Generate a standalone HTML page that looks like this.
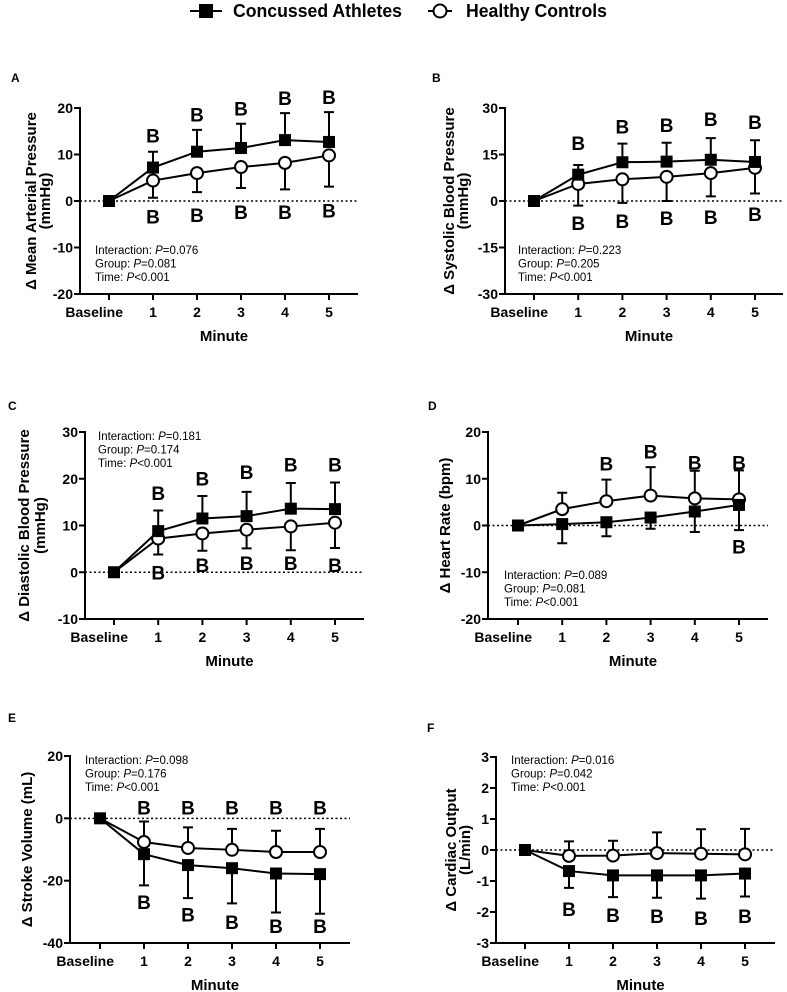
<!DOCTYPE html>
<html><head><meta charset="utf-8"><style>
body{margin:0;background:#fff;}
svg{display:block;font-family:"Liberation Sans",Arial,sans-serif;}
</style></head><body>
<svg id="fig" width="787" height="992" viewBox="0 0 787 992">
<g>
 <line x1="190" y1="11" x2="222" y2="11" stroke="#000" stroke-width="2"/>
 <rect x="199" y="4" width="14" height="14" fill="#000"/>
 <text x="233" y="17" font-size="18" font-weight="bold" textLength="169" lengthAdjust="spacingAndGlyphs">Concussed Athletes</text>
 <line x1="428" y1="11" x2="452" y2="11" stroke="#000" stroke-width="2"/>
 <circle cx="440" cy="11" r="6.5" fill="#fff" stroke="#000" stroke-width="2"/>
 <text x="466" y="17" font-size="18" font-weight="bold" textLength="141" lengthAdjust="spacingAndGlyphs">Healthy Controls</text>
</g>
</svg>
<script>
const categories=["Baseline","1","2","3","4","5"];
// Panel A
const aConc=[0,7.2,10.6,11.4,13.1,12.7];
const aConcErr=[0,10.6,15.3,16.6,18.9,19.1];
const aCtrl=[0,4.4,6.0,7.3,8.2,9.8];
const aCtrlErr=[0,0.7,1.9,2.8,2.5,3.1];
const aTicks=[20,10,0,-10,-20];
const aLetTop=[null,14.1,18.6,19.9,22.2,22.4];
const aLetBot=[null,-3.3,-3.0,-2.4,-2.4,-2.0];
// Panel B
const bConc=[0,8.5,12.5,12.7,13.3,12.6];
const bConcErr=[0,11.6,18.5,18.8,20.3,19.6];
const bCtrl=[0,5.5,7.0,7.8,9.0,10.7];
const bCtrlErr=[0,-1.5,-0.6,0,1.5,2.4];
const bTicks=[30,15,0,-15,-30];
const bLetTop=[null,18.7,24,24.5,26.5,25.5];
const bLetBot=[null,-7.1,-6.5,-5.5,-5.2,-4.2];
// Panel C
const cConc=[0,8.8,11.5,12.0,13.6,13.5];
const cConcErr=[0,13.2,16.3,17.2,19.1,19.2];
const cCtrl=[0,7.2,8.3,9.1,9.8,10.6];
const cCtrlErr=[0,3.8,4.6,5.1,4.7,5.2];
const cTicks=[30,20,10,0,-10];
const cLetTop=[null,16.9,20.1,21.4,23.1,23.1];
const cLetBot=[null,0,1.5,2,2,1.5];
// Panel D
const dConc=[0,0.3,0.7,1.7,3.0,4.4];
const dConcErr=[0,-3.8,-2.3,-0.7,-1.4,-1.0];
const dCtrl=[0,3.5,5.2,6.4,5.8,5.6];
const dCtrlErr=[0,7.0,9.8,12.5,11.7,11.8];
const dTicks=[20,10,0,-10,-20];
const dLetTop=[null,null,13.3,15.8,13.5,13.5];
const dLetBot=[null,null,null,null,null,-4.5];
// Panel E
const eConc=[0,-11.5,-15.0,-16.0,-17.7,-17.9];
const eConcErr=[0,-21.5,-25.6,-27.3,-30.2,-30.6];
const eCtrl=[0,-7.6,-9.5,-10.1,-10.8,-10.8];
const eCtrlErr=[0,-1.0,-2.9,-3.4,-4.0,-3.4];
const eTicks=[20,0,-20,-40];
const eLetTop=[null,3.5,3.5,3.5,3.5,3.5];
const eLetBot=[null,-26.9,-30.8,-33.3,-34.6,-34.6];
// Panel F
const fConc=[0,-0.68,-0.82,-0.82,-0.82,-0.76];
const fConcErr=[0,-1.22,-1.52,-1.54,-1.57,-1.50];
const fCtrl=[0,-0.19,-0.18,-0.10,-0.12,-0.14];
const fCtrlErr=[0,0.28,0.30,0.57,0.67,0.68];
const fTicks=[3,2,1,0,-1,-2,-3];
const fLetTop=[null,null,null,null,null,null];
const fLetBot=[null,-1.9,-2.1,-2.13,-2.2,-2.13];

const NS="http://www.w3.org/2000/svg";
const svg=document.getElementById('fig');
function mk(tag,attrs,parent,txt){const e=document.createElementNS(NS,tag);for(const k in attrs)e.setAttribute(k,attrs[k]);if(txt!==undefined)e.textContent=txt;parent.appendChild(e);return e;}

const panels=[
 {id:'a',label:'A',lx:11,ly:82,ax:80,top:108,bot:294,x0:109,x5:329,xe:358,conc:aConc,concErr:aConcErr,ctrl:aCtrl,ctrlErr:aCtrlErr,ticks:aTicks,lt:aLetTop,lb:aLetBot,
  title:['Δ Mean Arterial Pressure','(mmHg)'],tx:[31,45],sx:95,sy:254},
 {id:'b',label:'B',lx:432,ly:82,ax:505,top:108,bot:294,x0:534,x5:755,xe:783,conc:bConc,concErr:bConcErr,ctrl:bCtrl,ctrlErr:bCtrlErr,ticks:bTicks,lt:bLetTop,lb:bLetBot,
  title:['Δ  Systolic Blood Pressure','(mmHg)'],tx:[449,463],sx:518,sy:254},
 {id:'c',label:'C',lx:8,ly:410,ax:85,top:432,bot:619,x0:114,x5:335,xe:364,conc:cConc,concErr:cConcErr,ctrl:cCtrl,ctrlErr:cCtrlErr,ticks:cTicks,lt:cLetTop,lb:cLetBot,
  title:['Δ  Diastolic Blood Pressure','(mmHg)'],tx:[24,40],sx:98,sy:440},
 {id:'d',label:'D',lx:428,ly:410,ax:488,top:432,bot:619,x0:518,x5:739,xe:768,conc:dConc,concErr:dConcErr,ctrl:dCtrl,ctrlErr:dCtrlErr,ticks:dTicks,lt:dLetTop,lb:dLetBot,
  title:['Δ Heart Rate (bpm)'],tx:[445],sx:504,sy:579},
 {id:'e',label:'E',lx:8,ly:722,ax:70,top:756,bot:943,x0:100,x5:320,xe:350,conc:eConc,concErr:eConcErr,ctrl:eCtrl,ctrlErr:eCtrlErr,ticks:eTicks,lt:eLetTop,lb:eLetBot,
  title:['Δ Stroke Volume (mL)'],tx:[27],sx:85,sy:764},
 {id:'f',label:'F',lx:427,ly:732,ax:496,top:757,bot:943,x0:525,x5:745,xe:775,conc:fConc,concErr:fConcErr,ctrl:fCtrl,ctrlErr:fCtrlErr,ticks:fTicks,lt:fLetTop,lb:fLetBot,
  title:['Δ Cardiac Output','(L/min)'],tx:[451,465],sx:511,sy:764}
];
const stats={a:['0.076','0.081'],b:['0.223','0.205'],c:['0.181','0.174'],d:['0.089','0.081'],e:['0.098','0.176'],f:['0.016','0.042']};

panels.forEach(p=>{
 const g=mk('g',{},svg);
 
 
 const ymax=p.ticks[0],ymin=p.ticks[p.ticks.length-1];
 const Y=v=>p.top+(ymax-v)/(ymax-ymin)*(p.bot-p.top);
 const X=i=>p.x0+i*(p.x5-p.x0)/(categories.length-1);
 const pl=mk('text',{x:p.lx,y:p.ly,'font-size':12,'font-weight':'bold'},g,p.label);
 
 
 const z=mk('line',{x1:p.ax,x2:p.xe,y1:Y(0),y2:Y(0),stroke:'#000','stroke-width':1.5,'stroke-dasharray':'2,2.5'},g);
 
 
 const ya=mk('line',{x1:p.ax,x2:p.ax,y1:p.top-1,y2:p.bot+1,stroke:'#000','stroke-width':2},g);
 
 
 const xa=mk('line',{x1:p.ax-6,x2:p.xe,y1:p.bot,y2:p.bot,stroke:'#000','stroke-width':2},g);
 
 
 p.ticks.forEach(t=>{
  mk('line',{x1:p.ax-6,x2:p.ax,y1:Y(t),y2:Y(t),stroke:'#000','stroke-width':2},g);
  const tl=mk('text',{x:p.ax-7,y:Y(t)+5,'font-size':14,'font-weight':'bold','text-anchor':'end'},g,String(t));
  
  
 });
 categories.forEach((c,i)=>{
  mk('line',{x1:X(i),x2:X(i),y1:p.bot,y2:p.bot+6,stroke:'#000','stroke-width':2},g);
  const tl=mk('text',{x:i===0?X(0)+14:X(i),y:p.bot+23,'font-size':14,'font-weight':'bold','text-anchor':i===0?'end':'middle'},g,c);
  
  
 });
 const xt=mk('text',{x:(p.ax+p.xe)/2+5,y:p.bot+47,'font-size':15,'font-weight':'bold','text-anchor':'middle'},g,'Minute');
 
 
 const cy=(p.top+p.bot)/2;
 p.title.forEach((t,k)=>{
  const tt=mk('text',{x:p.tx[k],y:cy,'font-size':15,'font-weight':'bold','text-anchor':'middle',transform:`rotate(-90 ${p.tx[k]} ${cy})`,dy:5},g,t);
  
  
 });
 const st=stats[p.id];
 const lines=[['Interaction: ',st[0],'='],['Group: ',st[1],'='],['Time: ','0.001','<']];
 lines.forEach((l,k)=>{
  const t=mk('text',{x:p.sx,y:p.sy+k*13.5,'font-size':11.5},g);
  
  
  mk('tspan',{},t,l[0]);mk('tspan',{'font-style':'italic'},t,'P');mk('tspan',{},t,l[2]+l[1]);
 });
 const drawErr=(vals,err,name)=>{vals.forEach((v,i)=>{if(i===0)return;
  const e=mk('path',{d:`M${X(i)},${Y(v)}V${Y(err[i])}M${X(i)-5},${Y(err[i])}H${X(i)+5}`,stroke:'#000','stroke-width':2,fill:'none'},g);
  
  });};
 drawErr(p.conc,p.concErr,'concussed');
 drawErr(p.ctrl,p.ctrlErr,'control');
 const lineOf=(vals,name)=>{const l=mk('polyline',{points:vals.map((v,i)=>X(i)+','+Y(v)).join(' '),fill:'none',stroke:'#000','stroke-width':2},g);
  
  };
 lineOf(p.ctrl,'control');
 lineOf(p.conc,'concussed');
 p.ctrl.forEach((v,i)=>{if(i===0)return;
  const c=mk('circle',{cx:X(i),cy:Y(v),r:6,fill:'#fff',stroke:'#000','stroke-width':2},g);
  
  });
 p.conc.forEach((v,i)=>{
  const r=mk('rect',{x:X(i)-6,y:Y(v)-6,width:12,height:12,fill:'#000'},g);
  
  });
 const letters=(arr)=>{arr.forEach((v,i)=>{if(v===null)return;
  const t=mk('text',{x:X(i),y:Y(v)+7,'font-size':19,'font-weight':'bold','text-anchor':'middle'},g,'B');
  
  });};
 letters(p.lt);letters(p.lb);
});
</script>
</body></html>
